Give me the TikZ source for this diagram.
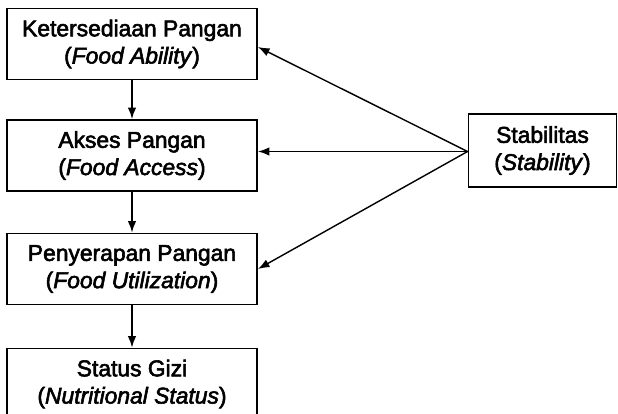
\documentclass[tikz,border=0pt]{standalone}
\usepackage{fontspec}
\setmainfont{Liberation Sans}[FakeBold=2.5]
\usetikzlibrary{calc,arrows.meta}

\begin{document}
\begin{tikzpicture}[x=0.02cm,y=-0.02cm,
    pillar/.style={draw,line width=1.1pt,minimum width=5cm,minimum height=1.42cm,
      align=center,inner sep=0pt,font=\fontsize{13}{15.5}\selectfont},
    link/.style={-{Latex[length=2.3mm,width=1.7mm]},line width=0.8pt}]
    \useasboundingbox (0,0) rectangle (618,413);

    \node[pillar] at (132,44) (Ketersediaan) {Ketersediaan Pangan\\(\textit{Food Ability})};
    \node[pillar] at (132,155.5) (Akses) {Akses Pangan\\(\textit{Food Access})};
    \node[pillar] at (132,269) (Penyerapan) {Penyerapan Pangan\\(\textit{Food Utilization})};
    \node[pillar] at (132,384) (Gizi) {Status Gizi\\(\textit{Nutritional Status})};
    \node[pillar,minimum width=2.96cm,minimum height=1.46cm] at (542.5,150.5) (Stabilitas) {Stabilitas\\(\textit{Stability})};
    \coordinate (hub) at ($(Stabilitas.west)+(0,1)$);

    \draw[link] (Ketersediaan) to (Akses);
    \draw[link] (Akses) to (Penyerapan);
    \draw[link] (Penyerapan) to (Gizi);
    \draw[link] (hub) to ($(Ketersediaan.east)+(0,3)$);
    \draw[link] (hub) to (hub -| Akses.east);
    \draw[link] (hub) to (Penyerapan.east);
  \end{tikzpicture}
\end{document}
